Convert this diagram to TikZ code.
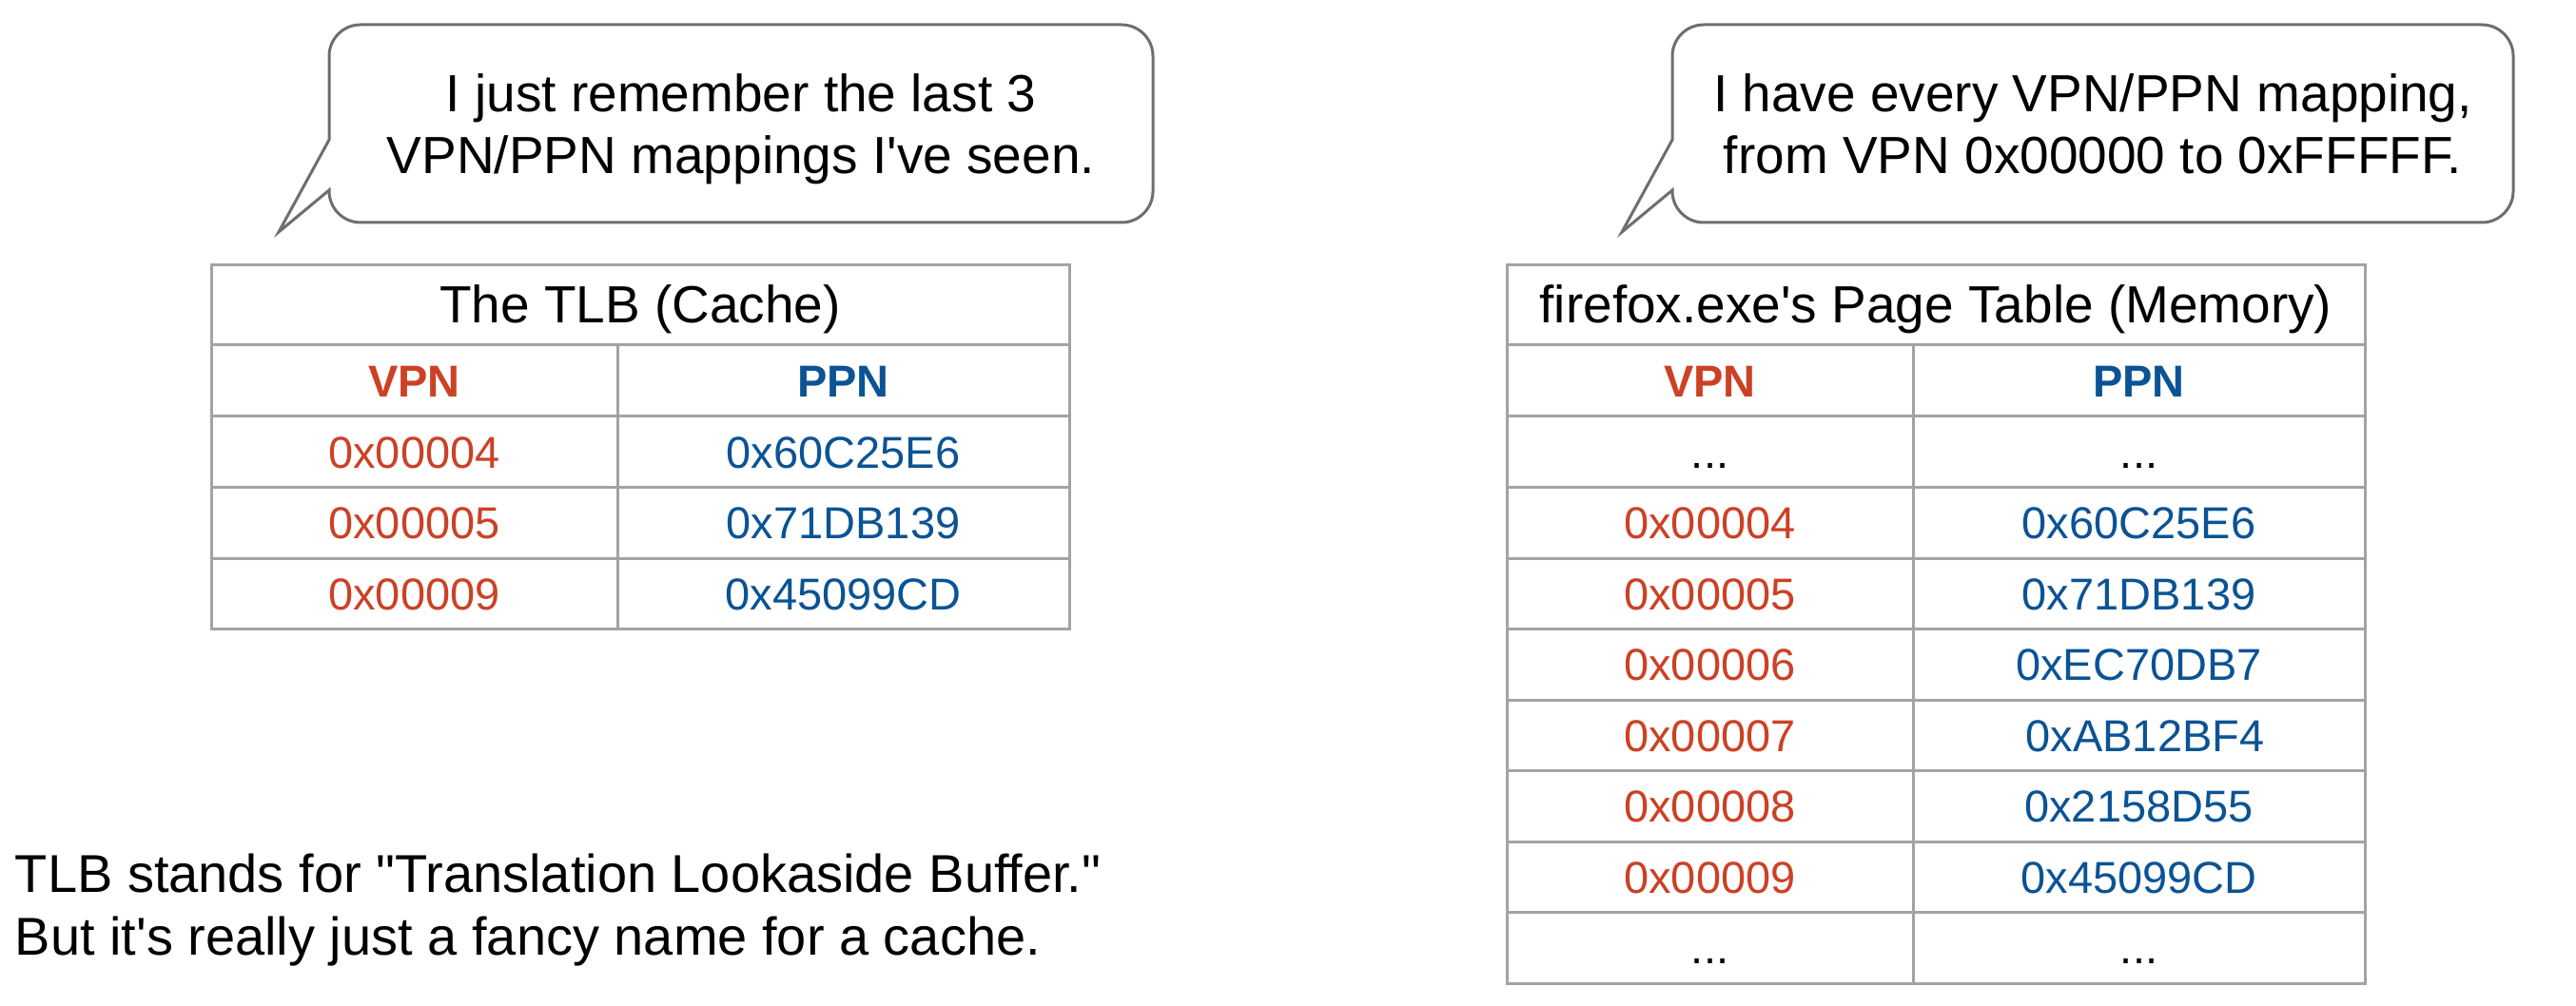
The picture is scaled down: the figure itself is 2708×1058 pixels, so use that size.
\documentclass[tikz,border=0pt]{standalone}
\usepackage{fontspec}
\setmainfont{Liberation Sans}
\usepackage{xcolor}
\usetikzlibrary{positioning}

\definecolor{vpnred}{HTML}{CC4125}
\definecolor{ppnblue}{HTML}{0B5394}
\definecolor{gridgray}{HTML}{A3A3A3}
\definecolor{bubblegray}{HTML}{6E6E6E}

\begin{document}
\begin{tikzpicture}[x=0.25pt, y=-0.25pt, node distance=0pt,
		tabcell/.style={draw=gridgray, line width=0.75pt, outer sep=0pt, inner sep=0pt,
			minimum height=18.625pt, text height=8.4pt, text depth=0pt,
			font=\fontsize{11.75}{14}\selectfont},
		vcell/.style={tabcell, minimum width=106.75pt, text=vpnred},
		pcell/.style={tabcell, minimum width=118.75pt, text=ppnblue},
		headcell/.style={minimum height=18.75pt, font=\fontsize{11.75}{14}\selectfont\bfseries},
		gapcell/.style={text=black},
		tabtitle/.style={tabcell, minimum width=225.5pt, minimum height=21pt,
			text height=9.3pt, font=\fontsize{13.75}{16}\selectfont, text=black},
		saytext/.style={align=center, inner sep=0pt, font=\fontsize{13.75}{16.25}\selectfont},
		bubline/.style={draw=bubblegray, line width=0.75pt, fill=white}]

	\fill[white] (0,0) rectangle (2708,1058);

	% speech bubbles
	\coordinate (tlbtip) at (293,244);
	\coordinate (pttip) at (1705,244);
	\draw[bubline] (346,147) -- (346,59) arc[start angle=180, end angle=90, radius=8.25pt]
		-- (1179,26) arc[start angle=90, end angle=0, radius=8.25pt]
		-- (1212,201) arc[start angle=0, end angle=-90, radius=8.25pt]
		-- (379,234) arc[start angle=-90, end angle=-180, radius=8.25pt]
		-- (346,200) -- (tlbtip) -- cycle;
	\draw[bubline] (1758,147) -- (1758,59) arc[start angle=180, end angle=90, radius=8.25pt]
		-- (2609,26) arc[start angle=90, end angle=0, radius=8.25pt]
		-- (2642,201) arc[start angle=0, end angle=-90, radius=8.25pt]
		-- (1791,234) arc[start angle=-90, end angle=-180, radius=8.25pt]
		-- (1758,200) -- (pttip) -- cycle;
	\node[saytext] (tlbsay) at (779,136) {I just remember the last 3\\VPN/PPN mappings I\textquotesingle ve seen.};
	\node[saytext] (ptsay) at (2200,130.5) {I have every VPN/PPN mapping,\\from VPN 0x00000 to 0xFFFFF.};

	% the TLB
	\node[tabtitle, anchor=north west] (tlbtitle) at (222,279) {The TLB (Cache)};
	\node[vcell, headcell] (tlbvpn)[below right = 0pt and 0pt of tlbtitle.south west] {VPN};
	\node[pcell, headcell] (tlbppn)[right = of tlbvpn] {PPN};
	\node[vcell] (tlbv1)[below = of tlbvpn] {0x00004};
	\node[pcell] (tlbp1)[right = of tlbv1] {0x60C25E6};
	\node[vcell] (tlbv2)[below = of tlbv1] {0x00005};
	\node[pcell] (tlbp2)[right = of tlbv2] {0x71DB139};
	\node[vcell] (tlbv3)[below = of tlbv2] {0x00009};
	\node[pcell] (tlbp3)[right = of tlbv3] {0x45099CD};

	% the page table
	\node[tabtitle, anchor=north west] (pttitle) at (1584,279) {firefox.exe\textquotesingle s Page Table (Memory)};
	\node[vcell, headcell] (ptvpn)[below right = 0pt and 0pt of pttitle.south west] {VPN};
	\node[pcell, headcell] (ptppn)[right = of ptvpn] {PPN};
	\node[vcell, gapcell] (ptv0)[below = of ptvpn] {...};
	\node[pcell, gapcell] (ptp0)[right = of ptv0] {...};
	\node[vcell] (ptv1)[below = of ptv0] {0x00004};
	\node[pcell] (ptp1)[right = of ptv1] {0x60C25E6};
	\node[vcell] (ptv2)[below = of ptv1] {0x00005};
	\node[pcell] (ptp2)[right = of ptv2] {0x71DB139};
	\node[vcell] (ptv3)[below = of ptv2] {0x00006};
	\node[pcell] (ptp3)[right = of ptv3] {0xEC70DB7};
	\node[vcell] (ptv4)[below = of ptv3] {0x00007};
	\node[pcell] (ptp4)[right = of ptv4] {\ 0xAB12BF4};
	\node[vcell] (ptv5)[below = of ptv4] {0x00008};
	\node[pcell] (ptp5)[right = of ptv5] {0x2158D55};
	\node[vcell] (ptv6)[below = of ptv5] {0x00009};
	\node[pcell] (ptp6)[right = of ptv6] {0x45099CD};
	\node[vcell, gapcell] (ptv7)[below = of ptv6] {...};
	\node[pcell, gapcell] (ptp7)[right = of ptv7] {...};

	\node[align=left, inner sep=0pt, anchor=west, font=\fontsize{14}{16.5}\selectfont] (tlbnote) at (15,957)
		{TLB stands for \textquotedbl Translation Lookaside Buffer.\textquotedbl\\But it\textquotesingle s really just a fancy name for a cache.};
\end{tikzpicture}
\end{document}
